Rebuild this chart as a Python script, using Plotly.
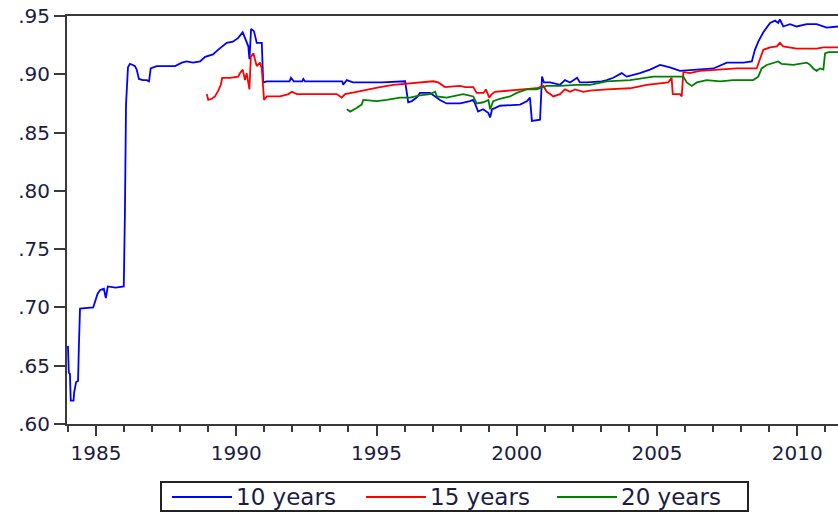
import plotly.graph_objects as go

# Decimal-year observation dates and ratios for each horizon
years_10 = [1984.00, 1984.03, 1984.07, 1984.10, 1984.20, 1984.22, 1984.29, 1984.36, 1984.39, 1984.43,
            1984.90, 1984.96, 1985.06, 1985.15, 1985.28, 1985.35, 1985.42, 1985.70, 1985.99, 1986.03,
            1986.07, 1986.14, 1986.21, 1986.31, 1986.39, 1986.45, 1986.53, 1986.67, 1986.81, 1986.89,
            1986.95, 1987.16, 1987.82, 1988.06, 1988.23, 1988.46, 1988.71, 1988.89, 1989.17, 1989.35,
            1989.66, 1989.88, 1990.06, 1990.23, 1990.31, 1990.43, 1990.47, 1990.53, 1990.63, 1990.73,
            1990.91, 1990.96, 1991.09, 1991.90, 1991.95, 1992.05, 1992.35, 1992.39, 1992.45, 1993.78,
            1993.81, 1993.94, 1994.16, 1995.20, 1996.02, 1996.13, 1996.26, 1996.43, 1996.55, 1996.91,
            1997.09, 1997.26, 1997.50, 1997.98, 1998.33, 1998.44, 1998.51, 1998.62, 1998.80, 1998.98,
            1999.05, 1999.12, 1999.22, 1999.40, 2000.12, 2000.37, 2000.47, 2000.54, 2000.83, 2000.90,
            2000.97, 2001.19, 2001.54, 2001.72, 2001.90, 2002.15, 2002.25, 2002.50, 2003.03, 2003.21,
            2003.44, 2003.74, 2003.92, 2004.39, 2004.75, 2005.11, 2005.46, 2005.82, 2006.42, 2007.01,
            2007.49, 2008.08, 2008.38, 2008.49, 2008.61, 2008.79, 2009.03, 2009.21, 2009.32, 2009.38,
            2009.50, 2009.74, 2009.98, 2010.34, 2010.69, 2011.05, 2011.45]
ratio_10 = [0.667, 0.644, 0.643, 0.620, 0.620, 0.627, 0.636, 0.637, 0.667, 0.699,
            0.700, 0.705, 0.712, 0.715, 0.716, 0.708, 0.718, 0.717, 0.718, 0.780,
            0.874, 0.906, 0.909, 0.908, 0.907, 0.904, 0.896, 0.895, 0.895, 0.894,
            0.905, 0.907, 0.907, 0.910, 0.911, 0.910, 0.911, 0.915, 0.917, 0.921,
            0.927, 0.928, 0.931, 0.936, 0.931, 0.924, 0.913, 0.939, 0.937, 0.927,
            0.927, 0.893, 0.894, 0.894, 0.897, 0.894, 0.894, 0.896, 0.894, 0.894,
            0.891, 0.895, 0.893, 0.893, 0.894, 0.876, 0.877, 0.880, 0.884, 0.884,
            0.881, 0.878, 0.875, 0.875, 0.877, 0.878, 0.875, 0.868, 0.870, 0.867,
            0.863, 0.870, 0.871, 0.873, 0.874, 0.877, 0.880, 0.860, 0.861, 0.898,
            0.893, 0.893, 0.891, 0.895, 0.893, 0.897, 0.893, 0.893, 0.894, 0.895,
            0.897, 0.901, 0.898, 0.901, 0.904, 0.908, 0.906, 0.903, 0.904, 0.905,
            0.910, 0.910, 0.911, 0.921, 0.928, 0.936, 0.944, 0.946, 0.944, 0.947,
            0.941, 0.943, 0.941, 0.943, 0.943, 0.940, 0.941]

years_15 = [1988.95, 1989.00, 1989.13, 1989.24, 1989.36, 1989.45, 1989.50, 1989.78, 1990.07, 1990.13,
            1990.23, 1990.31, 1990.37, 1990.47, 1990.52, 1990.61, 1990.73, 1990.85, 1990.91, 1990.99,
            1991.09, 1991.56, 1991.86, 1991.98, 1992.16, 1992.51, 1993.58, 1993.76, 1993.88, 1994.29,
            1994.65, 1995.12, 1995.60, 1996.19, 1996.43, 1997.02, 1997.20, 1997.44, 1997.98, 1998.16,
            1998.45, 1998.57, 1998.81, 1998.90, 1999.02, 1999.11, 1999.22, 1999.76, 2000.23, 2000.71,
            2000.95, 2001.07, 2001.19, 2001.30, 2001.54, 2001.72, 2001.90, 2002.08, 2002.37, 2002.61,
            2003.21, 2004.04, 2004.63, 2005.40, 2005.52, 2005.56, 2005.82, 2005.88, 2005.94, 2006.17,
            2006.53, 2007.25, 2007.84, 2008.55, 2008.67, 2008.79, 2009.03, 2009.27, 2009.38, 2009.50,
            2009.98, 2010.69, 2010.93, 2011.45]
ratio_15 = [0.883, 0.878, 0.879, 0.881, 0.886, 0.891, 0.897, 0.897, 0.898, 0.901,
            0.904, 0.895, 0.901, 0.887, 0.915, 0.918, 0.907, 0.910, 0.905, 0.878,
            0.881, 0.881, 0.883, 0.885, 0.883, 0.883, 0.883, 0.880, 0.883, 0.885,
            0.887, 0.889, 0.891, 0.892, 0.893, 0.894, 0.893, 0.889, 0.890, 0.889,
            0.889, 0.884, 0.884, 0.887, 0.880, 0.883, 0.885, 0.886, 0.887, 0.888,
            0.890, 0.885, 0.883, 0.881, 0.883, 0.887, 0.885, 0.887, 0.885, 0.886,
            0.887, 0.888, 0.891, 0.893, 0.897, 0.883, 0.883, 0.881, 0.902, 0.901,
            0.903, 0.904, 0.905, 0.905, 0.914, 0.921, 0.923, 0.924, 0.927, 0.924,
            0.922, 0.922, 0.923, 0.923]

years_20 = [1993.94, 1994.06, 1994.29, 1994.47, 1994.53, 1995.01, 1995.36, 1995.84, 1996.19, 1996.55,
            1996.91, 1997.09, 1997.15, 1997.50, 1998.09, 1998.45, 1998.57, 1998.81, 1998.99, 1999.05,
            1999.16, 1999.40, 1999.76, 2000.00, 2000.35, 2000.71, 2001.07, 2001.54, 2002.14, 2002.61,
            2003.21, 2004.04, 2004.87, 2005.46, 2005.94, 2006.06, 2006.24, 2006.42, 2006.77, 2007.25,
            2007.72, 2008.43, 2008.61, 2008.73, 2008.91, 2009.32, 2009.44, 2009.86, 2010.34, 2010.46,
            2010.57, 2010.69, 2010.81, 2010.93, 2010.99, 2011.11, 2011.45]
ratio_20 = [0.870, 0.868, 0.871, 0.874, 0.878, 0.877, 0.878, 0.880, 0.880, 0.882,
            0.883, 0.885, 0.881, 0.880, 0.883, 0.881, 0.875, 0.876, 0.878, 0.870,
            0.877, 0.879, 0.881, 0.884, 0.887, 0.887, 0.890, 0.890, 0.891, 0.891,
            0.894, 0.895, 0.898, 0.898, 0.898, 0.893, 0.890, 0.893, 0.895, 0.894,
            0.895, 0.895, 0.898, 0.905, 0.908, 0.911, 0.909, 0.908, 0.910, 0.908,
            0.905, 0.903, 0.905, 0.904, 0.918, 0.919, 0.919]

series_names = ["10 years", "15 years", "20 years"]
series_colors = ["#0000ff", "#ff0000", "#008000"]

x_tick_vals = [1985, 1990, 1995, 2000, 2005, 2010]
x_tick_text = ["1985", "1990", "1995", "2000", "2005", "2010"]
x_minor_vals = list(range(1984, 2012))
y_tick_vals = [0.60, 0.65, 0.70, 0.75, 0.80, 0.85, 0.90, 0.95]
y_tick_text = [".60", ".65", ".70", ".75", ".80", ".85", ".90", ".95"]

W, H = 838, 515
L, R, T, B = 67, 0, 16, 91
plot_w = W - L - R
plot_h = H - T - B

axis_color = "#3a3a3a"
label_color = "#1c1c44"
font_family = "DejaVu Sans, Arial, sans-serif"

fig = go.Figure()
for xs, ys, name, color in zip([years_10, years_15, years_20],
                               [ratio_10, ratio_15, ratio_20],
                               series_names, series_colors):
    fig.add_trace(go.Scatter(x=xs, y=ys, mode="lines", name=name,
                             line=dict(color=color, width=1.8),
                             showlegend=False))


def px_x(px):
    return (px - L) / plot_w


def px_y(py):
    return (H - B - py) / plot_h


# Boxed legend below the plot, with long line samples
shapes = [dict(type="rect", xref="paper", yref="paper",
               x0=px_x(161), x1=px_x(748), y0=px_y(511), y1=px_y(482),
               line=dict(color="#222222", width=2), fillcolor="white")]
annotations = []
legend_line_starts = [172, 366, 557]
for start, name, color in zip(legend_line_starts, series_names, series_colors):
    shapes.append(dict(type="line", xref="paper", yref="paper",
                       x0=px_x(start), x1=px_x(start + 60),
                       y0=px_y(497), y1=px_y(497),
                       line=dict(color=color, width=1.8)))
    annotations.append(dict(xref="paper", yref="paper", x=px_x(start + 62), y=px_y(497),
                            text=name, showarrow=False, xanchor="left", yanchor="middle",
                            font=dict(family=font_family, size=23, color=label_color)))

fig.update_layout(
    width=W, height=H,
    margin=dict(l=L, r=R, t=T, b=B, pad=0),
    paper_bgcolor="white", plot_bgcolor="white",
    showlegend=False,
    shapes=shapes, annotations=annotations,
    xaxis=dict(range=[1983.966, 2011.452], tickmode="array",
               tickvals=x_tick_vals, ticktext=x_tick_text,
               ticks="outside", ticklen=10, tickwidth=2, tickcolor=axis_color,
               minor=dict(tickmode="array", tickvals=x_minor_vals, ticks="outside",
                          ticklen=6, tickwidth=2, tickcolor=axis_color),
               showline=True, linewidth=2, linecolor=axis_color, mirror=True,
               showgrid=False, zeroline=False,
               tickfont=dict(family=font_family, size=20, color=label_color)),
    yaxis=dict(range=[0.60, 0.95], tickmode="array",
               tickvals=y_tick_vals, ticktext=y_tick_text,
               ticks="outside", ticklen=11, tickwidth=2, tickcolor=axis_color,
               showline=True, linewidth=2, linecolor=axis_color, mirror=False,
               showgrid=False, zeroline=False,
               tickfont=dict(family=font_family, size=20, color=label_color)),
)

fig.write_html("out.html")
